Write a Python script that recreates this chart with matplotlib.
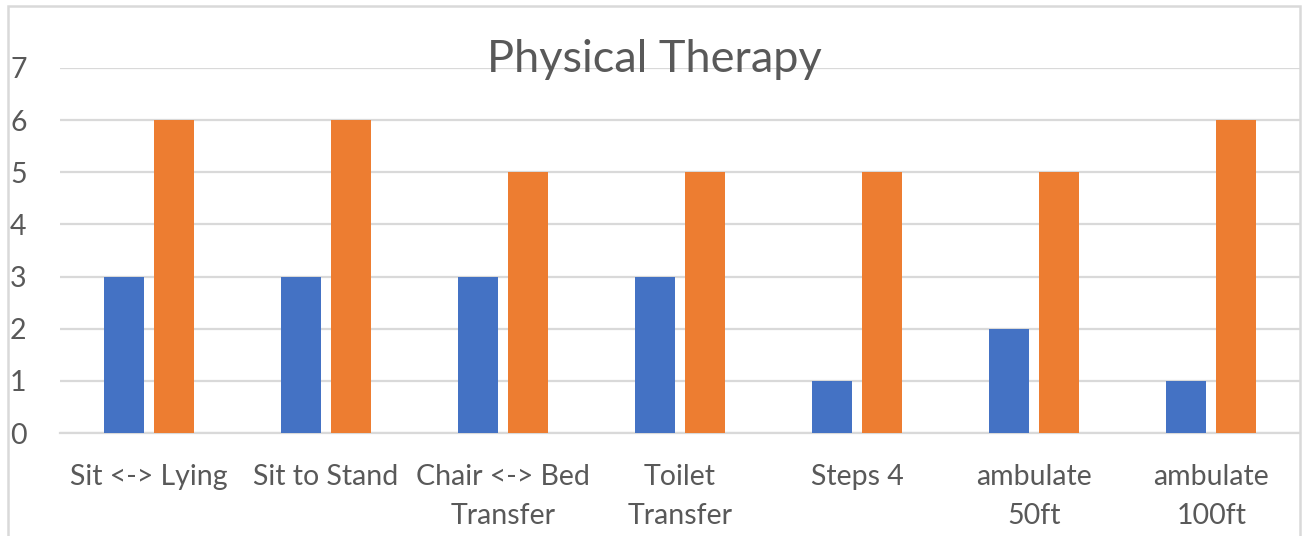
import matplotlib
matplotlib.use("Agg")
import matplotlib.pyplot as plt
import numpy as np
from matplotlib.patches import Rectangle

categorias = ["Sit <-> Lying", "Sit to Stand", "Chair <-> Bed\nTransfer",
              "Toilet\nTransfer", "Steps 4", "ambulate\n50ft", "ambulate\n100ft"]
serie_azul = [3, 3, 3, 3, 1, 2, 1]
serie_laranja = [6, 6, 5, 5, 5, 5, 6]
ticks_y = [0, 1, 2, 3, 4, 5, 6, 7]

AZUL = "#4472C4"
LARANJA = "#ED7D31"
CINZA_TXT = "#595959"
CINZA_LINHA = "#D9D9D9"

plt.rcParams["font.family"] = ["Lato", "DejaVu Sans"]

W, H = 1302, 536
fig = plt.figure(figsize=(W / 100, H / 100), dpi=100)

# borda do grafico (estilo Excel), a base sai da imagem
fig.patches.append(Rectangle((8 / W, -0.1), (1300 - 8) / W, 1.1 - 6 / H,
                             transform=fig.transFigure, fill=False,
                             edgecolor=CINZA_LINHA, linewidth=1.8))

ax = fig.add_axes([60 / W, (H - 433) / H, (1300 - 60) / W, (433 - 68) / H])
x = np.arange(len(categorias))
larg = 0.2256
desl = 0.141
ax.bar(x - desl, serie_azul, width=larg, color=AZUL, zorder=3)
ax.bar(x + desl, serie_laranja, width=larg, color=LARANJA, zorder=3)

ax.set_xlim(-0.5, len(categorias) - 0.5)
ax.set_ylim(0, 7)
ax.set_yticks(ticks_y)
ax.grid(axis="y", color=CINZA_LINHA, linewidth=1.6, zorder=0)
for s in ["top", "right", "left"]:
    ax.spines[s].set_visible(False)
ax.spines["bottom"].set_color(CINZA_LINHA)
ax.spines["bottom"].set_linewidth(1.6)
ax.tick_params(axis="both", length=0, colors=CINZA_TXT, labelsize=20.5)
ax.tick_params(axis="y", pad=24)
ax.tick_params(axis="x", pad=22)
ax.set_xticks(x)
ax.set_xticklabels(categorias, linespacing=1.62)

fig.text(654 / W, 1 - 60 / H, "Physical Therapy", ha="center", va="center",
         fontsize=32.5, color=CINZA_TXT)

fig.savefig("out.png", dpi=100)
